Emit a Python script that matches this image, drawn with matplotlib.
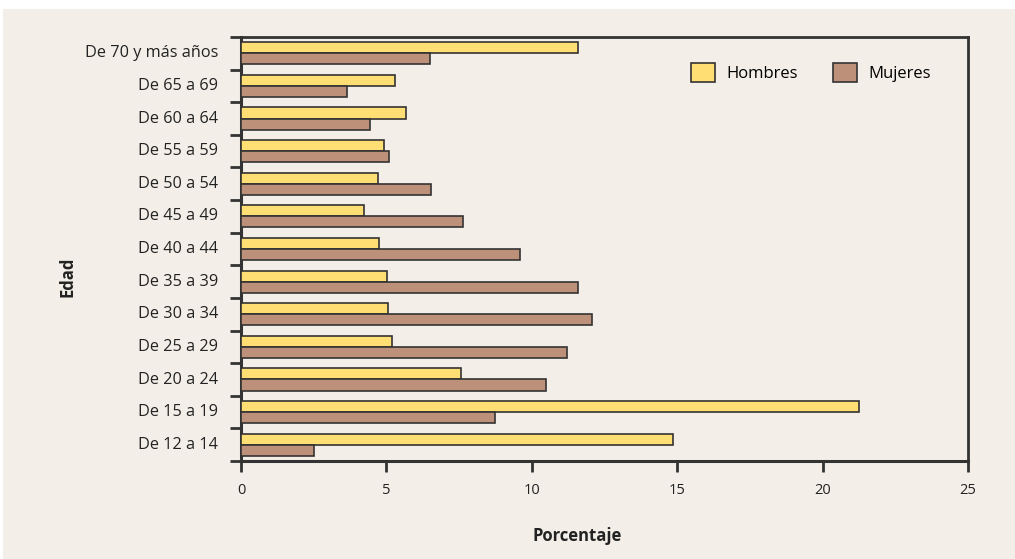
import matplotlib
matplotlib.use("Agg")
import matplotlib.pyplot as plt
import matplotlib.patches as mpatches
import numpy as np

plt.rcParams['font.family'] = ['Open Sans', 'DejaVu Sans']

categories = ["De 12 a 14", "De 15 a 19", "De 20 a 24", "De 25 a 29", "De 30 a 34",
              "De 35 a 39", "De 40 a 44", "De 45 a 49", "De 50 a 54", "De 55 a 59",
              "De 60 a 64", "De 65 a 69", "De 70 y más años"]
hombres = [14.86, 21.25, 7.57, 5.19, 5.06, 5.02, 4.74, 4.23, 4.71, 4.92, 5.67, 5.3, 11.59]
mujeres = [2.51, 8.73, 10.49, 11.21, 12.07, 11.59, 9.59, 7.63, 6.53, 5.09, 4.44, 3.65, 6.5]
xticks = [0, 5, 10, 15, 20, 25]

bg = "#F3EFE8"
yellow = "#FFDF73"
brown = "#BC9079"
dark = "#333333"
txt = "#222222"

fig = plt.figure(figsize=(10.15, 5.59), dpi=100)
fig.patch.set_facecolor("white")
fig.add_artist(mpatches.Rectangle((3/1015, 0), 1 - 3/1015, 1 - 9/559,
                                  transform=fig.transFigure, facecolor=bg,
                                  edgecolor="none", zorder=0))

ax = fig.add_axes([241/1015, 1 - 461/559, (968 - 241)/1015, (461 - 37)/559])
ax.set_facecolor(bg)

y = np.arange(len(categories))
h = 0.34
ax.barh(y + h/2, hombres, height=h, color=yellow, edgecolor=dark, linewidth=1.2,
        label="Hombres", zorder=3)
ax.barh(y - h/2, mujeres, height=h, color=brown, edgecolor=dark, linewidth=1.2,
        label="Mujeres", zorder=3)

ax.set_xlim(0, 25)
ax.set_ylim(-0.5, len(categories) - 0.5)
ax.set_xticks(xticks)
ax.set_xticklabels([str(v) for v in xticks], fontsize=10.5, color=txt)
ax.set_yticks(y + 0.06)
ax.set_yticklabels(categories, fontsize=11.7, color=txt)
ax.set_yticks(np.arange(-0.5, len(categories), 1), minor=True)
ax.tick_params(axis='y', which='major', length=0, pad=16.5)
ax.tick_params(axis='y', which='minor', length=8, width=2, color=dark, direction='out')
ax.tick_params(axis='x', which='major', length=8, width=2, color=dark, direction='out', pad=8)

for side in ['left', 'bottom']:
    ax.spines[side].set_linewidth(2.2)
    ax.spines[side].set_color(dark)
for side in ['top', 'right']:
    ax.spines[side].set_linewidth(2)
    ax.spines[side].set_color(dark)

fig.text(577/1015, 1 - 536/559, "Porcentaje", fontsize=12, fontweight='bold',
         color=txt, ha='center', va='center')
fig.text(67/1015, 1 - 277/559, "Edad", fontsize=12, fontweight='bold',
         color=txt, ha='center', va='center', rotation=90)

leg = ax.legend(loc='upper right', bbox_to_anchor=(0.97, 0.975), ncol=2, frameon=False,
                fontsize=12, handlelength=1.45, handleheight=1.45, columnspacing=2.1,
                handletextpad=0.7)

fig.savefig("out.png", dpi=100, facecolor=fig.get_facecolor())
